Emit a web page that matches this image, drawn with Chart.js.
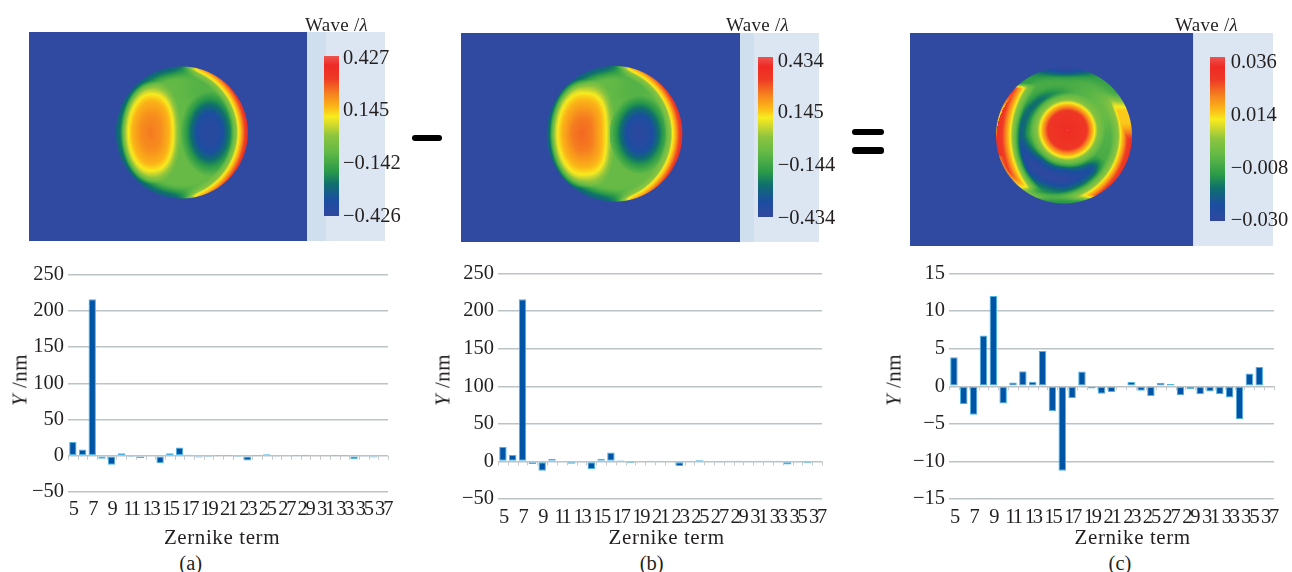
<!DOCTYPE html>
<html><head><meta charset="utf-8">
<script src="https://cdn.jsdelivr.net/npm/chart.js@4"></script>
<style>
html,body{margin:0;padding:0;background:#fff;width:1292px;height:572px;overflow:hidden}
#stage{position:relative;width:1292px;height:572px;font-family:"Liberation Serif",serif;color:#231f20}
#stage canvas{position:absolute}
.t{position:absolute;white-space:nowrap;font-size:20.5px;line-height:1;transform:translateY(-50%)}
.c{transform:translate(-50%,-50%)}
.w{font-size:19px;letter-spacing:.3px}
.z{font-size:21px;letter-spacing:.6px}
.y{transform:translate(-50%,-50%) rotate(-90deg);font-size:21px;letter-spacing:.5px}
.op{position:absolute;background:#000;border-radius:3px}
</style></head><body><div id="stage"></div>
<script>
const zernikeTerms=[5,6,7,8,9,10,11,12,13,14,15,16,17,18,19,20,21,22,23,24,25,26,27,28,29,30,31,32,33,34,35,36,37];
const valuesA=[19,8.5,216,-4,-12.5,3.5,-0.5,-3,-1,-10,3.5,11.5,1.5,-2.5,-0.5,0.5,0.5,-0.5,-6.5,0.5,2,-0.7,-1,0.5,0.5,1.2,0.7,0.5,0.5,-4.5,-1.5,-2.5,0];
const valuesB=[19.5,8.5,215.7,-3.5,-12.5,3.5,0,-3,-0.7,-10,3.5,12,1.7,-2.5,0,0.5,0.5,0,-6,0.7,2,0,-0.7,0.5,0.5,1.3,0.7,0.5,0.5,-4.2,-1.5,-2.5,0];
const valuesC=[3.85,-2.4,-3.8,6.75,12,-2.3,0.5,2,0.6,4.7,-3.3,-11.25,-1.6,1.95,-0.3,-1,-0.75,0.1,0.55,-0.6,-1.3,0.45,0.3,-1.2,-0.35,-1.05,-0.7,-1.05,-1.5,-4.4,1.7,2.55,0];
const scaleBarsAB=[-50,250,50];
const scaleBarsC=[-15,15,5];
const colorbarA=["0.427","0.145","\u22120.142","\u22120.426"];
const colorbarB=["0.434","0.145","\u22120.144","\u22120.434"];
const colorbarC=["0.036","0.014","\u22120.008","\u22120.030"];
const colormapStops=[[0,"#30479f"],[.1,"#1b4ea0"],[.2,"#0f6f6e"],[.28,"#2a9a48"],[.4,"#62b946"],[.5,"#8cc43f"],[.58,"#d9dc2b"],[.62,"#f7ec1e"],[.68,"#fbb817"],[.76,"#f6841f"],[.86,"#ee3a25"],[.94,"#ee2a24"],[1,"#ef5350"]];

const stage=document.getElementById('stage');
const rgb=h=>[1,3,5].map(i=>parseInt(h.substr(i,2),16));
const cmapRGB=colormapStops.map(s=>[s[0],rgb(s[1])]);
function cmap(L){L=Math.max(0,Math.min(1,L));
  for(let i=1;i<cmapRGB.length;i++){if(L<=cmapRGB[i][0]){const a=cmapRGB[i-1],b=cmapRGB[i],t=(L-a[0])/(b[0]-a[0]);
    return a[1].map((v,k)=>v+(b[1][k]-v)*t);}}
  return cmapRGB[cmapRGB.length-1][1];}
function lk(tb,q){if(q<=tb[0][0])return tb[0][1];
  for(let i=1;i<tb.length;i++){if(q<=tb[i][0]){const t=(q-tb[i-1][0])/(tb[i][0]-tb[i-1][0]);return tb[i-1][1]+(tb[i][1]-tb[i-1][1])*t;}}
  return tb[tb.length-1][1];}
const sm=(a,b,v)=>{const t=Math.max(0,Math.min(1,(v-a)/(b-a)));return t*t*(3-2*t);};
const gs=(d,w)=>Math.exp(-(d*d)/(w*w));

function twoLobe(o){return (x,y)=>{
  const r=Math.hypot(x,y);
  let L=.41;
  L-=.21*sm(.78,1,r)*sm(.35,-.2,x);
  L-=.03*sm(.75,1,r);
  L-=.04*gs(Math.hypot(x-.3,y+.65),.3);
  const dx=(x-o.warm[0])/o.warm[2],dy=(y-o.warm[1])/o.warm[3],p=dx>0?o.warm[4]:2;
  const q=Math.pow(Math.pow(Math.abs(dx),p)+Math.pow(Math.abs(dy),p),1/p);
  if(q<1.3)L=lk(o.warmT.concat([[1.3,L]]),q);
  const q2=Math.hypot((x-o.cool[0])/o.cool[2],(y-o.cool[1])/o.cool[3]);
  if(q2<2.2)L=Math.min(L,lk(o.coolT,q2));
  const s=Math.hypot(x+.15,y)-1.01;
  if(s>-.12){const v=lk([[-.12,L],[-.03,.5],[-.005,.62],[.03,.67],[.07,.78],[.11,.88],[.16,.94]],s),m=sm(-.02,.28,x);L=L+(v-L)*m;}
  return L;};}
const fieldA=twoLobe({warm:[-.47,0,.35,.6,2.4],warmT:[[0,.775],[.45,.745],[.78,.69],[.95,.63],[1.05,.56]],
  cool:[.42,0,.2,.3],coolT:[[0,.03],[.6,.05],[1,.1],[1.4,.2],[1.8,.3],[2.2,.4]]});
const fieldB=twoLobe({warm:[-.48,0,.37,.62,3],warmT:[[0,.8],[.4,.77],[.78,.69],[.95,.63],[1.05,.56]],
  cool:[.37,0,.2,.27],coolT:[[0,.02],[.6,.05],[1,.1],[1.4,.2],[1.8,.3],[2.2,.4]]});
const swirlWeight=[[0,0],[30,0],[50,.7],[90,1],[135,1],[180,.55],[240,.42],[285,0],[360,0]];
const swirlWidth=[[30,.08],[90,.2],[135,.2],[180,.1],[285,.08]];
function fieldC(x,y){
  let L=.35;
  const r=Math.hypot(x,y);
  L+=.07*gs(Math.hypot(x-.6,y+.4),.35);
  L-=.06*sm(.8,1,r);
  const rho=Math.hypot(x,y);let th=Math.atan2(y,x)*180/Math.PI;if(th<0)th+=360;
  L-=.34*lk(swirlWeight,th)*gs(rho-.63,lk(swirlWidth,th));
  const q=Math.hypot(x-.05,y+.08)/.4;
  if(q<1.4)L=lk([[0,.97],[.12,.92],[.7,.88],[.86,.74],[1,.62],[1.12,.48],[1.4,L]],q);
  const s1=Math.hypot(x-.49,y)-1.28;
  if(s1>-.14){const m=sm(-.78,-.68,y)*sm(.86,.74,y),top=y>.3?.8:.92;
    const v=lk([[-.14,L],[-.03,.5],[0,.62],[.05,.72],[.12,.86],[.2,top]],s1);L=L+(v-L)*m;}
  const s2=Math.hypot(x+.15,y)-.98;
  if(s2>-.14){const m=sm(-.65,-.35,y)*sm(.98,.86,y),cap=.66+.26*sm(-.2,.15,y);
    const v=Math.min(cap,lk([[-.14,L],[-.03,.5],[0,.62],[.05,.72],[.1,.85],[.17,.92]],s2));L=L+(v-L)*m;}
  const g=gs(Math.hypot((x-.02)/.42,(y+1)/.11),1);
  return L+(0-L)*g;
}

function text(s,x,y,cls){const d=document.createElement('div');d.className='t '+(cls||'');d.innerHTML=s;d.style.left=x+'px';d.style.top=y+'px';stage.appendChild(d);return d;}
function panel(o){
  const W=o.x2-o.x0,H=o.y1-o.y0,c=document.createElement('canvas');
  c.width=W;c.height=H;c.style.left=o.x0+'px';c.style.top=o.y0+'px';stage.appendChild(c);
  const g=c.getContext('2d');
  g.fillStyle='#dbe6f2';g.fillRect(0,0,W,H);
  g.fillStyle='#cfdfee';g.fillRect(o.x1-o.x0,0,o.strip,H);
  const pw=o.x1-o.x0,img=g.createImageData(pw,H),bg=[47,74,160];
  for(let j=0;j<H;j++)for(let i=0;i<pw;i++){
    const px=i+.5+o.x0-o.cx,py=j+.5+o.y0-o.cy,d=Math.hypot(px,py),cov=Math.max(0,Math.min(1,o.r-d+.5));
    let col=bg;
    if(cov>0){const cc=cmap(o.f(px/o.r,py/o.r));col=cc.map((v,k)=>v*cov+bg[k]*(1-cov));}
    const n=(j*pw+i)*4;img.data[n]=col[0];img.data[n+1]=col[1];img.data[n+2]=col[2];img.data[n+3]=255;}
  g.putImageData(img,0,0);
  const gr=g.createLinearGradient(0,o.by1-o.y0,0,o.by0-o.y0);
  colormapStops.forEach(s=>gr.addColorStop(s[0],s[1]));
  g.fillStyle=gr;g.fillRect(o.bx-o.x0,o.by0-o.y0,15,o.by1-o.by0);
  o.labels.forEach((t,i)=>text(t,o.lx,o.ly[i]));
  text('Wave /<i>λ</i>',o.wx,24,'w');
}
panel({x0:29,x1:307,x2:385,y0:32,y1:241,strip:19,cx:181.8,cy:132.5,r:66,f:fieldA,bx:324,by0:56,by1:216,lx:343,ly:[57,109,162,215],labels:colorbarA,wx:305});
panel({x0:461,x1:740,x2:819,y0:33,y1:242,strip:14,cx:614.5,cy:133.8,r:67.8,f:fieldB,bx:758,by0:57,by1:217,lx:777.7,ly:[60,111,164,217],labels:colorbarB,wx:726});
panel({x0:910,x1:1193,x2:1273,y0:33,y1:246,strip:1,cx:1064,cy:135.5,r:68,f:fieldC,bx:1210,by0:57,by1:221,lx:1230.7,ly:[61,114,167,219],labels:colorbarC,wx:1175});

[[412,134.5,30,6],[852,128.5,32,6.5],[852,147,32,6.5]].forEach(r=>{const d=document.createElement('div');d.className='op';
  d.style.cssText=`left:${r[0]}px;top:${r[1]}px;width:${r[2]}px;height:${r[3]}px`;stage.appendChild(d);});

const zeroTicks={id:'zeroTicks',
  beforeDraw(ch){ch.ctx.letterSpacing='-2.2px';},
  beforeDatasetsDraw(ch){
    const xs=ch.scales.x,ys=ch.scales.y,g=ch.ctx,y0=ys.getPixelForValue(0),st=(xs.right-xs.left)/xs.ticks.length;
    g.letterSpacing='0px';
    g.save();g.strokeStyle='#c3c9cc';g.lineWidth=1;g.beginPath();
    for(let i=0;i<=xs.ticks.length;i++){const x=Math.round(xs.getPixelForValue(0)-st/2+st*i)+.5;g.moveTo(x,y0);g.lineTo(x,y0+4);}
    g.stroke();g.restore();}};

function barChart(o){
  const c=document.createElement('canvas');
  c.style.left=o.left+'px';c.style.top='260px';c.style.width=o.w+'px';c.style.height=o.h+'px';c.width=o.w;c.height=o.h;stage.appendChild(c);
  new Chart(c,{type:'bar',plugins:[zeroTicks],
    data:{labels:zernikeTerms.map(String),datasets:[{data:o.values,backgroundColor:'#0054a6',borderColor:'#4fb3e3',borderWidth:1,borderSkipped:false,categoryPercentage:1,barPercentage:.76}]},
    options:{responsive:false,animation:false,devicePixelRatio:1,
      layout:{autoPadding:false,padding:{left:0,right:o.w-o.plotRight,top:o.plotTop,bottom:0}},
      plugins:{legend:{display:false},title:{display:false},tooltip:{enabled:false}},
      scales:{
        x:{grid:{display:false},border:{display:false},afterFit(s){s.height=40;s.paddingLeft=0;s.paddingRight=0;},
          ticks:{z:0,autoSkip:false,maxRotation:0,minRotation:0,padding:o.xpad,color:'#231f20',font:{family:'"Liberation Serif"',size:20.5},
            callback(v,i){return i%2===0?zernikeTerms[i]:'';}}},
        y:{min:o.scale[0],max:o.scale[1],afterFit(s){s.width=o.plotLeft;s.paddingTop=0;s.paddingBottom=0;},border:{display:false},
          grid:{color:'#bcc3c7',lineWidth:1.5,drawTicks:false},
          ticks:{z:1,stepSize:o.scale[2],padding:4,color:'#231f20',font:{family:'"Liberation Serif"',size:20.5},
            callback(v){return v<0?'\u2212'+Math.abs(v):String(v);}}}
      }}});
}
barChart({left:0,w:430,h:272,plotLeft:68,plotRight:388,plotTop:14.5,values:valuesA,scale:scaleBarsAB,xpad:-3});
barChart({left:430,w:430,h:279,plotLeft:68,plotRight:392,plotTop:13.5,values:valuesB,scale:scaleBarsAB,xpad:-2});
barChart({left:860,w:432,h:279,plotLeft:89,plotRight:414,plotTop:13.5,values:valuesC,scale:scaleBarsC,xpad:-2});

[[222,537,'Zernike term','z'],[666.7,537,'Zernike term','z'],[1132.7,537,'Zernike term','z'],
 [190.7,563,'(a)',''],[651.7,563,'(b)',''],[1120,563,'(c)','']].forEach(a=>text(a[2],a[0],a[1],'c '+a[3]));
[[20,380],[443,380],[893.7,380]].forEach(a=>text('<i>Y</i> /nm',a[0],a[1],'y'));
</script></body></html>
